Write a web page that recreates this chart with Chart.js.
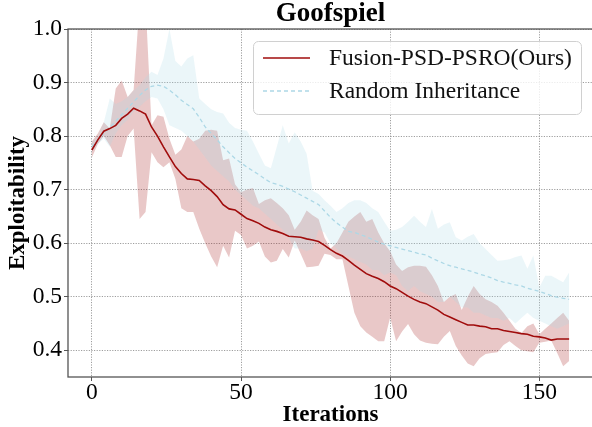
<!DOCTYPE html>
<html>
<head>
<meta charset="utf-8">
<script src="https://cdn.jsdelivr.net/npm/chart.js@4.4.1/dist/chart.umd.min.js"></script>
<style>
  html, body { margin: 0; padding: 0; background: #fff; overflow: hidden; }
</style>
</head>
<body>
<canvas id="chart" width="596" height="427"></canvas>
<script>
// Goofspiel exploitability, mean curves with min/max bands
const iterations = [0, 2, 4, 6, 8, 10, 12, 14, 16, 18,
    20, 22, 24, 26, 28, 30, 32, 34, 36, 38,
    40, 42, 44, 46, 48, 50, 52, 54, 56, 58,
    60, 62, 64, 66, 68, 70, 72, 74, 76, 78,
    80, 82, 84, 86, 88, 90, 92, 94, 96, 98,
    100, 102, 104, 106, 108, 110, 112, 114, 116, 118,
    120, 122, 124, 126, 128, 130, 132, 134, 136, 138,
    140, 142, 144, 146, 148, 150, 152, 154, 156, 158,
    160];

const seriesNames = ['Fusion-PSD-PSRO(Ours)', 'Random Inheritance'];

const fusionMean = [0.774, 0.793, 0.809, 0.814, 0.82, 0.833, 0.841, 0.852, 0.847, 0.841,
    0.817, 0.80, 0.78, 0.761, 0.743, 0.73, 0.72, 0.719, 0.717, 0.707,
    0.698, 0.687, 0.672, 0.664, 0.662, 0.654, 0.646, 0.642, 0.637, 0.63,
    0.625, 0.622, 0.618, 0.613, 0.612, 0.611, 0.608, 0.606, 0.603, 0.596,
    0.588, 0.581, 0.576, 0.568, 0.559, 0.551, 0.543, 0.538, 0.534, 0.528,
    0.52, 0.515, 0.508, 0.501, 0.495, 0.49, 0.487, 0.481, 0.475, 0.467,
    0.462, 0.457, 0.452, 0.447, 0.447, 0.445, 0.444, 0.44, 0.44, 0.437,
    0.435, 0.433, 0.431, 0.43, 0.426, 0.425, 0.423, 0.419, 0.421, 0.421,
    0.421];
const fusionUpper = [0.79, 0.805, 0.826, 0.814, 0.889, 0.904, 0.873, 0.886, 1.05, 1.05,
    0.82, 0.839, 0.836, 0.795, 0.765, 0.775, 0.80, 0.79, 0.795, 0.81,
    0.812, 0.81, 0.755, 0.758, 0.71, 0.695, 0.70, 0.703, 0.673, 0.68,
    0.684, 0.675, 0.665, 0.652, 0.625, 0.64, 0.661, 0.652, 0.645, 0.61,
    0.59, 0.60, 0.62, 0.64, 0.65, 0.658, 0.64, 0.645, 0.62, 0.60,
    0.585, 0.56, 0.548, 0.555, 0.558, 0.558, 0.556, 0.54, 0.52, 0.49,
    0.50, 0.505, 0.475, 0.50, 0.52, 0.505, 0.495, 0.49, 0.483, 0.47,
    0.455, 0.44, 0.432, 0.445, 0.45, 0.43, 0.44, 0.45, 0.46, 0.47,
    0.455];
const fusionLower = [0.76, 0.785, 0.80, 0.783, 0.761, 0.761, 0.80, 0.814, 0.645, 0.658,
    0.77, 0.751, 0.742, 0.751, 0.72, 0.665, 0.658, 0.658, 0.627, 0.60,
    0.575, 0.555, 0.595, 0.573, 0.623, 0.615, 0.59, 0.595, 0.603, 0.575,
    0.564, 0.567, 0.589, 0.573, 0.605, 0.58, 0.555, 0.556, 0.558, 0.58,
    0.578, 0.57, 0.57, 0.52, 0.47, 0.445, 0.433, 0.425, 0.417, 0.417,
    0.461, 0.417, 0.435, 0.449, 0.43, 0.418, 0.414, 0.412, 0.411, 0.425,
    0.436, 0.408, 0.39, 0.375, 0.37, 0.385, 0.393, 0.395, 0.396, 0.41,
    0.417, 0.408, 0.40, 0.398, 0.396, 0.414, 0.416, 0.418, 0.395, 0.37,
    0.38];

const randomMean = [0.78, 0.793, 0.805, 0.816, 0.828, 0.84, 0.852, 0.864, 0.876, 0.886,
    0.893, 0.895, 0.893, 0.886, 0.877, 0.867, 0.859, 0.851, 0.835, 0.817,
    0.805, 0.793, 0.78, 0.769, 0.758, 0.75, 0.742, 0.735, 0.728, 0.72,
    0.713, 0.71, 0.706, 0.701, 0.696, 0.69, 0.684, 0.678, 0.672, 0.66,
    0.648, 0.638, 0.63, 0.622, 0.62, 0.616, 0.612, 0.607, 0.602, 0.598,
    0.595, 0.592, 0.589, 0.586, 0.583, 0.58, 0.578, 0.572, 0.567, 0.562,
    0.558, 0.555, 0.552, 0.549, 0.546, 0.542, 0.539, 0.535, 0.53, 0.527,
    0.525, 0.522, 0.52, 0.516, 0.513, 0.51, 0.506, 0.502, 0.499, 0.497,
    0.495];
const randomUpper = [0.79, 0.80, 0.826, 0.87, 0.86, 0.865, 0.873, 0.885, 0.895, 0.91,
    0.92, 0.914, 0.945, 1.0, 0.94, 0.93, 0.945, 0.951, 0.87, 0.86,
    0.85, 0.845, 0.842, 0.825, 0.815, 0.812, 0.81, 0.79, 0.767, 0.745,
    0.74, 0.78, 0.82, 0.786, 0.807, 0.79, 0.767, 0.698, 0.692, 0.68,
    0.67, 0.658, 0.665, 0.675, 0.68, 0.68, 0.675, 0.665, 0.658, 0.64,
    0.623, 0.625, 0.63, 0.64, 0.651, 0.64, 0.63, 0.664, 0.627, 0.635,
    0.639, 0.611, 0.605, 0.612, 0.617, 0.60, 0.589, 0.578, 0.567, 0.568,
    0.57, 0.574, 0.577, 0.552, 0.577, 0.517, 0.539, 0.539, 0.533, 0.527,
    0.545];
const randomLower = [0.77, 0.785, 0.795, 0.78, 0.805, 0.82, 0.83, 0.845, 0.855, 0.865,
    0.873, 0.87, 0.85, 0.82, 0.815, 0.81, 0.80, 0.79, 0.775, 0.76,
    0.745, 0.735, 0.725, 0.715, 0.70, 0.69, 0.68, 0.67, 0.665, 0.655,
    0.645, 0.635, 0.625, 0.61, 0.59, 0.59, 0.585, 0.59, 0.625, 0.62,
    0.60, 0.59, 0.58, 0.575, 0.57, 0.565, 0.56, 0.55, 0.55, 0.54,
    0.545, 0.54, 0.52, 0.51, 0.52, 0.51, 0.505, 0.50, 0.49, 0.49,
    0.50, 0.49, 0.48, 0.48, 0.47, 0.47, 0.465, 0.46, 0.46, 0.455,
    0.46, 0.45, 0.46, 0.47, 0.46, 0.455, 0.45, 0.445, 0.44, 0.445,
    0.45];

const xTicks = [0, 50, 100, 150];
const yTicks = [0.4, 0.5, 0.6, 0.7, 0.8, 0.9, 1.0];

const SERIF = "'Liberation Serif', 'DejaVu Serif', serif";
const RED = 'rgb(160, 12, 12)';
const RED_FILL = 'rgba(165, 25, 25, 0.24)';
const BLUE = 'rgb(173, 216, 230)';
const BLUE_FILL = 'rgba(173, 216, 230, 0.24)';

const pts = ys => iterations.map((x, i) => ({ x: x, y: ys[i] }));

// matplotlib style box around the axes + legend box in the upper right
const framePlugin = {
    id: 'frame',
    afterDatasetsDraw(chart) {
        const { ctx, chartArea: a } = chart;
        ctx.save();
        ctx.strokeStyle = '#555';
        ctx.lineWidth = 1.3;
        ctx.strokeRect(a.left, a.top, a.right - a.left, a.bottom - a.top);
        ctx.restore();
    },
    afterDraw(chart) {
        const { ctx } = chart;
        const box = { x: 253, y: 41, w: 328, h: 73 };
        ctx.save();
        ctx.beginPath();
        ctx.roundRect(box.x + 0.5, box.y + 0.5, box.w, box.h, 5);
        ctx.fillStyle = 'rgba(255,255,255,0.8)';
        ctx.fill();
        ctx.strokeStyle = '#d0d0d0';
        ctx.lineWidth = 1;
        ctx.stroke();

        const rows = [chart.data.datasets[0], chart.data.datasets[1]];
        rows.forEach((ds, i) => {
            const y = box.y + 17 + i * 33;
            ctx.beginPath();
            ctx.setLineDash(ds.borderDash || []);
            ctx.strokeStyle = ds.borderColor;
            ctx.lineWidth = ds.borderWidth;
            ctx.moveTo(box.x + 10, y);
            ctx.lineTo(box.x + 57, y);
            ctx.stroke();
            ctx.setLineDash([]);
            ctx.fillStyle = '#111';
            ctx.font = '23.5px ' + SERIF;
            ctx.textBaseline = 'middle';
            ctx.textAlign = 'left';
            ctx.fillText(ds.label, box.x + 76, y + 1);
        });
        ctx.restore();
    }
};

const gridOpts = {
    color: 'rgba(110,110,110,0.75)',
    lineWidth: 0.9,
    drawTicks: true,
    tickLength: 4,
    tickColor: '#555',
    tickWidth: 1
};

new Chart(document.getElementById('chart'), {
    type: 'line',
    data: {
        datasets: [
            {
                label: seriesNames[0],
                data: pts(fusionMean),
                borderColor: RED,
                borderWidth: 1.6,
                pointRadius: 0,
                fill: false,
                order: 1
            },
            {
                label: seriesNames[1],
                data: pts(randomMean),
                borderColor: BLUE,
                borderWidth: 1.3,
                borderDash: [4, 3],
                pointRadius: 0,
                fill: false,
                order: 2
            },
            {
                label: 'fusion-lower',
                data: pts(fusionLower),
                borderWidth: 0,
                pointRadius: 0,
                fill: false,
                order: 7
            },
            {
                label: 'fusion-upper',
                data: pts(fusionUpper),
                borderWidth: 0,
                pointRadius: 0,
                backgroundColor: RED_FILL,
                fill: 2,
                order: 6
            },
            {
                label: 'random-lower',
                data: pts(randomLower),
                borderWidth: 0,
                pointRadius: 0,
                fill: false,
                order: 5
            },
            {
                label: 'random-upper',
                data: pts(randomUpper),
                borderWidth: 0,
                pointRadius: 0,
                backgroundColor: BLUE_FILL,
                fill: 4,
                order: 4
            }
        ]
    },
    options: {
        responsive: false,
        animation: false,
        devicePixelRatio: 1,
        layout: { padding: { left: 0, right: 3, top: 0, bottom: 0 } },
        plugins: {
            legend: { display: false },
            tooltip: { enabled: false },
            title: {
                display: true,
                text: 'Goofspiel',
                fullSize: false,
                color: '#000',
                font: { family: SERIF, size: 27, weight: 'bold', lineHeight: 1 },
                padding: { top: 1, bottom: 1 }
            }
        },
        scales: {
            x: {
                type: 'linear',
                min: -8,
                max: 168,
                afterBuildTicks: s => { s.ticks = xTicks.map(v => ({ value: v })); },
                afterFit: s => { s.height = 50; },
                ticks: {
                    color: '#000',
                    padding: -2,
                    font: { family: SERIF, size: 23.5 },
                    maxRotation: 0
                },
                grid: gridOpts,
                border: { display: false, dash: [1.2, 1.4] },
                title: {
                    display: true,
                    text: 'Iterations',
                    color: '#000',
                    font: { family: SERIF, size: 23, weight: 'bold', lineHeight: 1 },
                    padding: { top: 0, bottom: 0 }
                }
            },
            y: {
                type: 'linear',
                min: 0.35,
                max: 1.0,
                afterBuildTicks: s => { s.ticks = yTicks.map(v => ({ value: v })); },
                afterFit: s => { s.width = 68; },
                ticks: {
                    color: '#000',
                    padding: 2,
                    font: { family: SERIF, size: 23.5 },
                    callback: v => v.toFixed(1)
                },
                grid: gridOpts,
                border: { display: false, dash: [1.2, 1.4] },
                title: {
                    display: true,
                    text: 'Exploitability',
                    color: '#000',
                    font: { family: SERIF, size: 23, weight: 'bold' },
                    padding: { top: 4, bottom: 0 }
                }
            }
        }
    },
    plugins: [framePlugin]
});
</script>
</body>
</html>
